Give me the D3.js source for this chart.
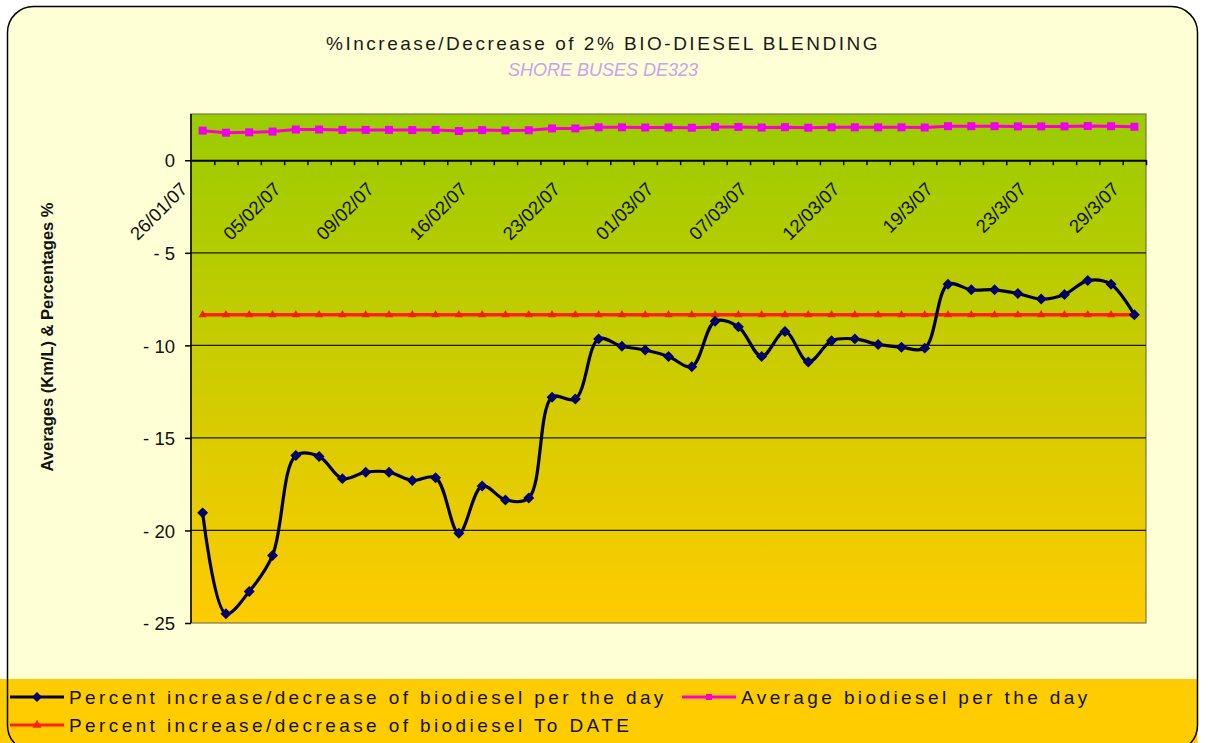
<!DOCTYPE html>
<html>
<head>
<meta charset="utf-8">
<script src="https://cdn.jsdelivr.net/npm/d3@7"></script>
<style>
  body { margin: 0; background: #ffffff; }
  svg text { font-family: "Liberation Sans", Arial, sans-serif; }
</style>
</head>
<body>
<svg id="chart" width="1208" height="743"></svg>
<script>
// ###############################
// data
const dateLabels = ["26/01/07","05/02/07","09/02/07","16/02/07","23/02/07","01/03/07",
                    "07/03/07","12/03/07","19/3/07","23/3/07","29/3/07"];
const labelStep = 4;   // one date label every 4 days
const nDays = 41;

const pctPerDay = [-19.05,-24.5,-23.3,-21.35,-15.95,-16.0,-17.2,-16.85,-16.85,-17.3,
                   -17.15,-20.15,-17.6,-18.35,-18.25,-12.8,-12.9,-9.65,-10.05,-10.25,
                   -10.6,-11.15,-8.7,-9.0,-10.6,-9.25,-10.9,-9.75,-9.65,-9.95,
                   -10.1,-10.15,-6.7,-7.0,-7.0,-7.2,-7.5,-7.25,-6.5,-6.7,-8.35];

const avgPerDay = [1.60,1.49,1.51,1.55,1.66,1.66,1.64,1.64,1.64,1.63,
                   1.64,1.58,1.63,1.61,1.62,1.72,1.72,1.78,1.78,1.77,
                   1.77,1.76,1.80,1.80,1.77,1.79,1.76,1.78,1.78,1.78,
                   1.78,1.77,1.84,1.84,1.84,1.83,1.83,1.83,1.85,1.84,1.81];

const pctToDate = [-8.35,-8.35,-8.35,-8.35,-8.35,-8.35,-8.35,-8.35,-8.35,-8.35,
                   -8.35,-8.35,-8.35,-8.35,-8.35,-8.35,-8.35,-8.35,-8.35,-8.35,
                   -8.35,-8.35,-8.35,-8.35,-8.35,-8.35,-8.35,-8.35,-8.35,-8.35,
                   -8.35,-8.35,-8.35,-8.35,-8.35,-8.35,-8.35,-8.35,-8.35,-8.35,-8.35];

const yTicks = [0,-5,-10,-15,-20,-25];

const chartDim = {left:191, right:1146, top:114, bottom:623};

var svg = d3.select("#chart");

// ###############################
// background / frame
svg.append("rect")
  .attr("x",7.5).attr("y",6.5).attr("width",1190).attr("height",745)
  .attr("rx",26).attr("ry",26)
  .style("fill","#ffffd6");

svg.append("rect")
  .attr("x",0).attr("y",679).attr("width",1197.5).attr("height",70)
  .style("fill","#ffcc00");

svg.append("rect")
  .attr("x",7.5).attr("y",6.5).attr("width",1190).attr("height",745)
  .attr("rx",26).attr("ry",26)
  .style("fill","none").style("stroke","#000").style("stroke-width",1.5);

// plot gradient
var grad = svg.append("defs").append("linearGradient")
  .attr("id","plotGrad").attr("x1",0).attr("y1",0).attr("x2",0).attr("y2",1);
grad.append("stop").attr("offset","0%").attr("stop-color","#99cc00");
grad.append("stop").attr("offset","100%").attr("stop-color","#ffcc00");

// ###############################
// scales
var xScale = d3.scaleBand()
  .domain(d3.range(nDays))
  .range([chartDim.left, chartDim.right])
  .padding(0);

var xEdge = d3.scaleLinear()
  .domain([0, nDays])
  .range([chartDim.left, chartDim.right]);

var yScale = d3.scaleLinear()
  .domain([-25, 2.5])
  .range([chartDim.bottom, chartDim.top]);

var cx = i => xScale(i) + xScale.bandwidth()/2;

svg.append("rect")
  .attr("x",chartDim.left).attr("y",chartDim.top)
  .attr("width",chartDim.right-chartDim.left).attr("height",chartDim.bottom-chartDim.top)
  .style("fill","url(#plotGrad)")
  .style("stroke","#777755").style("stroke-width",1.2);

// gridlines
svg.append("g")
  .selectAll("line.grid")
  .data(yTicks.filter(d => d < 0 && d > -25))
  .join("line")
    .attr("class","grid")
    .attr("x1",chartDim.left).attr("x2",chartDim.right)
    .attr("y1",d => yScale(d)).attr("y2",d => yScale(d))
    .style("stroke","#1a1a00").style("stroke-width",1.3);

// y axis
var yAxis = svg.append("g")
  .attr("transform",`translate(${chartDim.left},0)`)
  .call(d3.axisLeft(yScale).tickValues(yTicks).tickSize(6).tickSizeOuter(0).tickPadding(10).tickFormat(d3.format("d")));
yAxis.select(".domain").attr("d",`M0,${chartDim.top}V${chartDim.bottom}`).style("stroke","#000").style("stroke-width",1.5);
yAxis.selectAll("line").style("stroke","#000").style("stroke-width",1.5);
yAxis.selectAll("text")
  .style("font-size","18.5px").style("fill","#111").attr("dy","0.36em")
  .text(d => d < 0 ? "- " + Math.abs(d) : d);

// x axis on the zero line, ticks between days
var xAxis = svg.append("g")
  .attr("transform",`translate(0,${yScale(0)})`)
  .call(d3.axisBottom(xEdge).tickValues(d3.range(1, nDays+1)).tickSize(5).tickSizeOuter(0).tickFormat(""));
xAxis.select(".domain").style("stroke","#000").style("stroke-width",2);
xAxis.selectAll("line").style("stroke","#000").style("stroke-width",1.5);

// rotated date labels
svg.append("g")
  .selectAll("text.xlab")
  .data(dateLabels)
  .join("text")
    .attr("class","xlab")
    .attr("text-anchor","end")
    .attr("transform",(d,i) => `translate(${cx(i*labelStep) - 14},${yScale(0) + 30}) rotate(-45)`)
    .style("font-size","18.5px")
    .style("fill","#111")
    .text(d => d);

// ###############################
// lines
var lineStraight = d3.line().x((d,i) => cx(i)).y(d => yScale(d));
var lineSmooth = d3.line().x((d,i) => cx(i)).y(d => yScale(d)).curve(d3.curveCatmullRom.alpha(0.5));

svg.append("path").datum(pctToDate)
  .attr("d",lineStraight)
  .style("fill","none").style("stroke","#ff2200").style("stroke-width",3.5);

svg.selectAll("path.triMark")
  .data(pctToDate)
  .join("path")
    .attr("class","triMark")
    .attr("transform",(d,i) => `translate(${cx(i)},${yScale(d)})`)
    .attr("d",d3.symbol(d3.symbolTriangle, 30))
    .style("fill","#ee2200");

svg.append("path").datum(avgPerDay)
  .attr("d",lineStraight)
  .style("fill","none").style("stroke","#ff00cc").style("stroke-width",3);

svg.selectAll("rect.sqMark")
  .data(avgPerDay)
  .join("rect")
    .attr("class","sqMark")
    .attr("x",(d,i) => cx(i) - 4).attr("y",d => yScale(d) - 4)
    .attr("width",8).attr("height",8)
    .style("fill","#ee00ee");

svg.append("path").datum(pctPerDay)
  .attr("d",lineSmooth)
  .style("fill","none").style("stroke","#000033").style("stroke-width",3.2);

svg.selectAll("path.diaMark")
  .data(pctPerDay)
  .join("path")
    .attr("class","diaMark")
    .attr("transform",(d,i) => `translate(${cx(i)},${yScale(d)}) rotate(45)`)
    .attr("d",d3.symbol(d3.symbolSquare, 60))
    .style("fill","#000066");

// ###############################
// titles
svg.append("text")
  .attr("x",603).attr("y",50)
  .attr("text-anchor","middle")
  .style("font-size","19px").style("letter-spacing","2.5px").style("fill","#1a1a1a")
  .text("%Increase/Decrease of 2% BIO-DIESEL BLENDING");

svg.append("text")
  .attr("x",603).attr("y",76)
  .attr("text-anchor","middle")
  .style("font-size","18px").style("font-style","italic").style("fill","#c7a3ee")
  .text("SHORE  BUSES  DE323");

svg.append("text")
  .attr("transform","translate(53,337) rotate(-90)")
  .attr("text-anchor","middle")
  .style("font-size","16.5px").style("font-weight","bold").style("fill","#111")
  .text("Averages (Km/L) & Percentages %");

// ###############################
// legend
var legendItems = [
  {name:"Percent increase/decrease of biodiesel per the day", color:"#000033", mark:"diamond", x:10, y:697},
  {name:"Average biodiesel per the day", color:"#ff00cc", mark:"square", x:682, y:697},
  {name:"Percent increase/decrease of biodiesel To DATE", color:"#ff2200", mark:"triangle", x:10, y:725}
];

var leg = svg.append("g").selectAll("g.leg").data(legendItems).join("g")
  .attr("class","leg")
  .attr("transform",d => `translate(${d.x},${d.y})`);

leg.append("line")
  .attr("x1",0).attr("x2",54).attr("y1",0).attr("y2",0)
  .style("stroke",d => d.color).style("stroke-width",3);

leg.append("path")
  .attr("transform",d => d.mark === "diamond" ? "translate(27,0) rotate(45)" : "translate(27,0)")
  .attr("d",d => d3.symbol(d.mark === "triangle" ? d3.symbolTriangle : d3.symbolSquare, d.mark === "diamond" ? 50 : 36)())
  .style("fill",d => d.mark === "diamond" ? "#000066" : d.color);

leg.append("text")
  .attr("x",59).attr("y",7)
  .style("font-size","19px").style("letter-spacing","3.4px").style("fill","#111")
  .text(d => d.name);
</script>
</body>
</html>
